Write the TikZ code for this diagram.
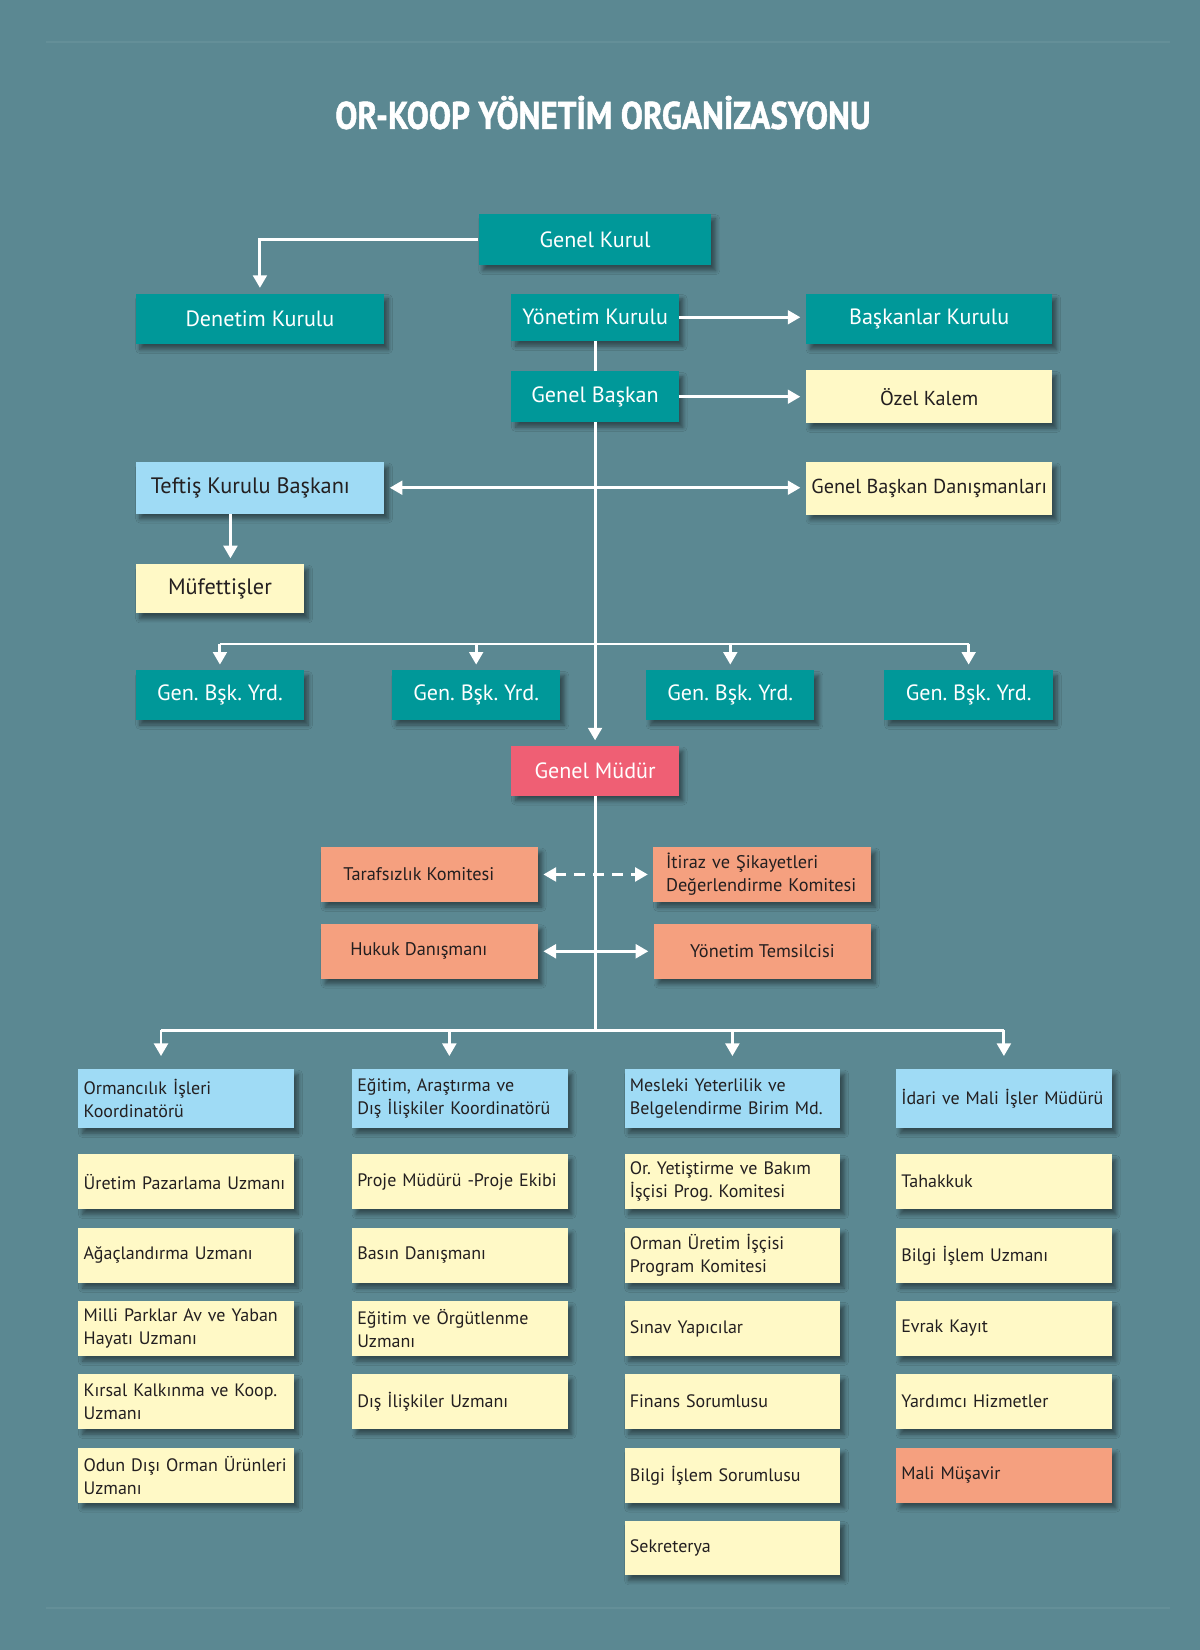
\documentclass[tikz,border=0pt]{standalone}
\usepackage{fontspec}
\setmainfont{PT Sans}
\newfontfamily\titlefont[FakeStretch=0.86, FakeBold=1.2]{PT Sans}
\usepackage{xcolor}
\usepackage{tikz}
\usetikzlibrary{shapes.geometric, arrows.meta, shadows.blur}
\frenchspacing
\hyphenpenalty=10000
\exhyphenpenalty=10000
\definecolor{bgteal}{HTML}{5B8892}
\definecolor{boxteal}{HTML}{009899}
\definecolor{boxyellow}{HTML}{FFF9C6}
\definecolor{boxblue}{HTML}{9FDBF5}
\definecolor{boxsalmon}{HTML}{F5A07F}
\definecolor{boxpink}{HTML}{EF5F74}
\definecolor{inkdark}{HTML}{231F20}
\tikzstyle{unit} = [rectangle,
inner sep=0pt,
text centered,
blur shadow={shadow xshift=2pt, shadow yshift=-2.5pt, shadow blur steps=6, shadow opacity=45}]
\tikzstyle{board} = [unit, fill=boxteal, text=white,
font=\fontsize{10.5}{12}\selectfont]
\tikzstyle{office} = [unit, fill=boxyellow, text=inkdark,
font=\fontsize{9.6}{12}\selectfont]
\tikzstyle{chief} = [unit, fill=boxpink, text=white,
font=\fontsize{10.5}{12}\selectfont]
\tikzstyle{committee} = [unit, fill=boxsalmon, text=inkdark,
minimum width=103pt, minimum height=26pt,
font=\fontsize{8.7}{11}\selectfont]
\tikzstyle{unitleft} = [unit, inner xsep=2.5pt, text width=97.5pt,
align=left, minimum height=26pt, text=inkdark,
font=\fontsize{8.55}{11}\selectfont]
\tikzstyle{head} = [unitleft, fill=boxblue, minimum height=28pt]
\tikzstyle{staff} = [unitleft, fill=boxyellow]
\tikzstyle{staffsalmon} = [unitleft, fill=boxsalmon]
\tikzstyle{link} = [white, line width=1.4pt]
\tikzstyle{arrow} = [link, ->, >={Triangle[length=6pt,width=6.5pt]}, shorten >=2.5pt]
\tikzstyle{twoway} = [link, <->, >={Triangle[length=6pt,width=6.5pt]}, shorten >=2.5pt, shorten <=2.5pt]

\begin{document}
\begin{tikzpicture}[x=0.5pt, y=-0.5pt]
\fill[bgteal] (0,0) rectangle (1140,1568);
\useasboundingbox (0,0) rectangle (1140,1568);
\draw[white, opacity=0.06, line width=0.8pt] (44,40) -- (1112,40);
\draw[white, opacity=0.06, line width=0.8pt] (44,1528) -- (1112,1528);

\node (title) [text=white, font=\titlefont\bfseries\fontsize{18.3}{20}\selectfont] at (573,107) {OR-KOOP YÖNETİM ORGANİZASYONU};

% top boards
\node (genelkurul) [board, minimum width=110.5pt, minimum height=24.5pt] at (565.5,227.5) {Genel Kurul};
\node (denetim) [board, minimum width=118pt, minimum height=24pt] at (247,303) {Denetim Kurulu};
\node (yonetim) [board, minimum width=79.5pt, minimum height=22.5pt] at (565.5,301.5) {Yönetim Kurulu};
\node (baskanlar) [board, minimum width=117pt, minimum height=24pt] at (883,303) {Başkanlar Kurulu};
\node (genelbaskan) [board, minimum width=79.5pt, minimum height=24pt] at (565.5,377) {Genel Başkan};
\node (ozelkalem) [office, minimum width=117pt, minimum height=25pt] at (883,377) {Özel Kalem};
\node (teftis) [office, fill=boxblue, font=\fontsize{10.6}{12}\selectfont, minimum width=118pt, minimum height=24.5pt] at (247,463.5) {\hspace*{-9pt}Teftiş Kurulu Başkanı};
\node (danisman) [office, minimum width=117pt, minimum height=25pt] at (883,464) {Genel Başkan Danışmanları};
\node (mufettis) [office, font=\fontsize{10.6}{12}\selectfont, minimum width=80pt, minimum height=23.5pt] at (209,559.5) {Müfettişler};

% deputies
\node (yrd1) [board, minimum width=80pt, minimum height=23.5pt] at (209,660.5) {Gen. Bşk. Yrd.};
\node (yrd2) [board, minimum width=80pt, minimum height=23.5pt] at (452.5,660.5) {Gen. Bşk. Yrd.};
\node (yrd3) [board, minimum width=80pt, minimum height=23.5pt] at (694,660.5) {Gen. Bşk. Yrd.};
\node (yrd4) [board, minimum width=80pt, minimum height=23.5pt] at (920.5,660.5) {Gen. Bşk. Yrd.};

\node (genelmudur) [chief, minimum width=79.5pt, minimum height=23.5pt] at (565.5,732.5) {Genel Müdür};

% committees
\node (tarafsizlik) [committee] at (408,831) {\hspace*{-10pt}Tarafsızlık Komitesi};
\node (itiraz) [committee, text width=91.5pt, inner xsep=6pt, align=left] at (724.5,831) {İtiraz ve Şikayetleri\\Değerlendirme Komitesi};
\node (hukuk) [committee] at (408,904) {\hspace*{-10pt}Hukuk Danışmanı};
\node (temsilci) [committee] at (724.5,904) {Yönetim Temsilcisi};

% column 1
\node (orman) [head] at (177,1044) {Ormancılık İşleri\\Koordinatörü};
\node (uretim) [staff] at (177,1123) {Üretim Pazarlama Uzmanı};
\node (agac) [staff] at (177,1193) {Ağaçlandırma Uzmanı};
\node (milli) [staff] at (177,1262.5) {Milli Parklar Av ve Yaban\\Hayatı Uzmanı};
\node (kirsal) [staff] at (177,1332) {Kırsal Kalkınma ve Koop.\\Uzmanı};
\node (odun) [staff] at (177,1402) {Odun Dışı Orman Ürünleri\\Uzmanı};

% column 2
\node (egitim) [head] at (437,1044) {Eğitim, Araştırma ve\\Dış İlişkiler Koordinatörü};
\node (proje) [staff] at (437,1123) {Proje Müdürü -Proje Ekibi};
\node (basin) [staff] at (437,1193) {Basın Danışmanı};
\node (orgut) [staff] at (437,1262.5) {Eğitim ve Örgütlenme\\Uzmanı};
\node (disiliski) [staff] at (437,1332) {Dış İlişkiler Uzmanı};

% column 3
\node (mesleki) [head] at (696,1044) {Mesleki Yeterlilik ve\\Belgelendirme Birim Md.};
\node (yetistirme) [staff] at (696,1123) {Or. Yetiştirme ve Bakım\\İşçisi Prog. Komitesi};
\node (ormanuretim) [staff] at (696,1193) {Orman Üretim İşçisi\\Program Komitesi};
\node (sinav) [staff] at (696,1262.5) {Sınav Yapıcılar};
\node (finans) [staff] at (696,1332) {Finans Sorumlusu};
\node (bilgisor) [staff] at (696,1402) {Bilgi İşlem Sorumlusu};
\node (sekreterya) [staff] at (696,1471) {Sekreterya};

% column 4
\node (idari) [head] at (954,1044) {İdari ve Mali İşler Müdürü};
\node (tahakkuk) [staff] at (954,1123) {Tahakkuk};
\node (bilgiuzm) [staff] at (954,1193) {Bilgi İşlem Uzmanı};
\node (evrak) [staff] at (954,1262.5) {Evrak Kayıt};
\node (yardimci) [staff] at (954,1332) {Yardımcı Hizmetler};
\node (mali) [staffsalmon] at (954,1402) {Mali Müşavir};

\coordinate (yrdbus) at (565.5,612);
\coordinate (colbus) at (565.5,979);

% connectors
\draw [arrow] (genelkurul.west) -| (denetim.north);
\draw [arrow] (yonetim.east) -- (yonetim.east -| baskanlar.west);
\draw [link] (yonetim.south) -- (genelbaskan.north);
\draw [arrow] (genelbaskan.east) -- (ozelkalem.west);
\draw [arrow] (genelbaskan.south) -- (genelmudur.north);
\draw [twoway] (teftis.east) -- (teftis.east -| danisman.west);
\draw [arrow] ([xshift=-14pt]teftis.south) -- ([xshift=5pt]mufettis.north);

\draw [link, line width=1.1pt] (yrd1.north |- yrdbus) -- (yrd4.north |- yrdbus);
\draw [arrow] (yrd1.north |- yrdbus) -- (yrd1.north);
\draw [arrow] (yrd2.north |- yrdbus) -- (yrd2.north);
\draw [arrow] (yrd3.north |- yrdbus) -- (yrd3.north);
\draw [arrow] (yrd4.north |- yrdbus) -- (yrd4.north);

\draw [twoway, dashed, dash pattern=on 5pt off 4pt] (tarafsizlik.east) -- (itiraz.west);
\draw [twoway] (hukuk.east) -- (temsilci.west);

\draw [link] (genelmudur.south) -- (colbus);
\draw [link] ([xshift=-12pt]orman.north |- colbus) -- (idari.north |- colbus);
\draw [arrow, shorten >=6pt] ([xshift=-12pt]orman.north |- colbus) -- ([xshift=-12pt]orman.north);
\draw [arrow, shorten >=6pt] ([xshift=-5pt]egitim.north |- colbus) -- ([xshift=-5pt]egitim.north);
\draw [arrow, shorten >=6pt] (mesleki.north |- colbus) -- (mesleki.north);
\draw [arrow, shorten >=6pt] (idari.north |- colbus) -- (idari.north);
\end{tikzpicture}
\end{document}
